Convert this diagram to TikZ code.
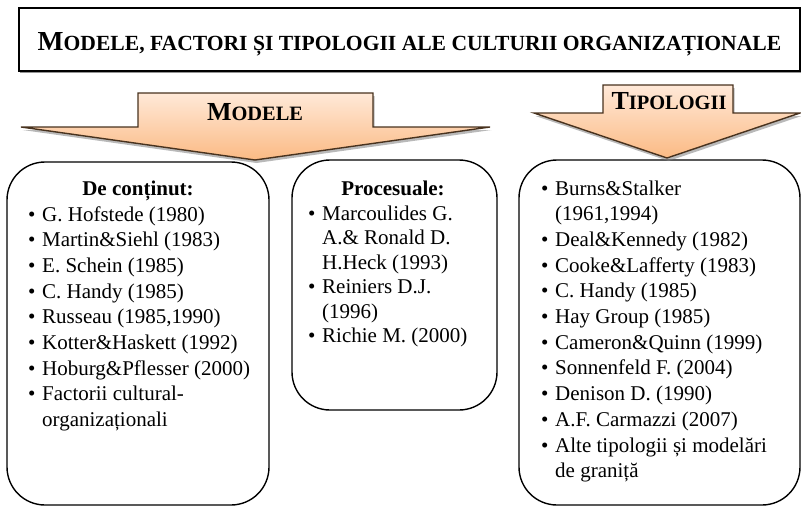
\documentclass[tikz,border=0pt]{standalone}
\usepackage{fontspec}
\setmainfont{Liberation Serif}
\usetikzlibrary{shadows}
\definecolor{peachlight}{RGB}{255,233,216}
\definecolor{peachdark}{RGB}{251,186,132}
\definecolor{arrowline}{RGB}{72,50,30}
\newcommand{\smallcap}[3]{{\fontsize{#1}{#1}\selectfont #2}{\fontsize{0.785\dimexpr#1pt\relax}{#1}\selectfont #3}}
\newcommand{\itembul}{\makebox[14pt][l]{\textbullet}}
\newcommand{\itemcont}{\hspace*{14pt}}
\tikzset{
  x=1pt, y=-1pt,
  titlebox/.style={draw, line width=1.3pt, minimum width=781pt, minimum height=63pt, inner sep=0pt, fill=white,
    drop shadow={shadow xshift=1pt, shadow yshift=-1.5pt, fill=black!60, opacity=0.7}},
  listbox/.style={draw, line width=1.4pt, rounded corners=38pt},
  bigarrow/.style={draw=arrowline, line width=1.4pt, top color=peachlight, bottom color=peachdark,
    drop shadow={shadow xshift=1.5pt, shadow yshift=-3pt, fill=black!50, opacity=0.55}},
  label/.style={font=\bfseries, inner sep=0pt, anchor=base},
  item/.style={font=\fontsize{21}{25}\selectfont, inner sep=0pt, anchor=base west},
  head/.style={font=\fontsize{21}{25}\selectfont\bfseries, inner sep=0pt, anchor=base}
}
\begin{document}
\begin{tikzpicture}
\useasboundingbox (0,0) rectangle (801,507);

% title
\node[titlebox] (title) at (409.5,39.5) {};
\node[label] (titletext) at (409.5,50) {\smallcap{27.5}{M}{ODELE, FACTORI ȘI TIPOLOGII ALE CULTURII ORGANIZAȚIONALE}};

% boxes
\draw[listbox] (7,162) rectangle (269,505);
\draw[listbox] (292,160) rectangle (497,410);
\draw[listbox] (519,160) rectangle (800,505);

% arrows
\draw[bigarrow] (138,93) -- (373,93) -- (373,127) -- (490,127) -- (255,160) -- (21,127) -- (138,127) -- cycle;
\node[label] (modele) at (255,120) {\smallcap{26}{M}{ODELE}};
\draw[bigarrow] (603,85) -- (733,85) -- (733,113) -- (800,113) -- (667,158) -- (534,113) -- (603,113) -- cycle;
\node[label] (tipologii) at (669,109) {\smallcap{26}{T}{IPOLOGII}};

% modele de continut
\node[head] (hdcontinut) at (138,195) {De conținut:};
\foreach \txt [count=\i from 0] in {
  {\itembul G. Hofstede (1980)},
  {\itembul Martin\&Siehl (1983)},
  {\itembul E. Schein (1985)},
  {\itembul C. Handy (1985)},
  {\itembul Russeau (1985,1990)},
  {\itembul Kotter\&Haskett (1992)},
  {\itembul Hoburg\&Pflesser (2000)},
  {\itembul Factorii cultural-},
  {\itemcont organizaționali}}
  \node[item] (lc\i) at (28,221+25.7*\i) {\txt};

% modele procesuale
\node[head] (hdproces) at (393,195) {Procesuale:};
\foreach \txt [count=\i from 0] in {
  {\itembul Marcoulides G.},
  {\itemcont A.\& Ronald D.},
  {\itemcont H.Heck (1993)},
  {\itembul Reiniers D.J.},
  {\itemcont (1996)},
  {\itembul Richie M. (2000)}}
  \node[item] (lp\i) at (308,220+24.5*\i) {\txt};

% tipologii
\foreach \txt [count=\i from 0] in {
  {\itembul Burns\&Stalker},
  {\itemcont (1961,1994)},
  {\itembul Deal\&Kennedy (1982)},
  {\itembul Cooke\&Lafferty (1983)},
  {\itembul C. Handy (1985)},
  {\itembul Hay Group (1985)},
  {\itembul Cameron\&Quinn (1999)},
  {\itembul Sonnenfeld F. (2004)},
  {\itembul Denison D. (1990)},
  {\itembul A.F. Carmazzi (2007)},
  {\itembul Alte tipologii și modelări},
  {\itemcont de graniță}}
  \node[item] (lt\i) at (541,195+25.7*\i) {\txt};

\end{tikzpicture}
\end{document}
